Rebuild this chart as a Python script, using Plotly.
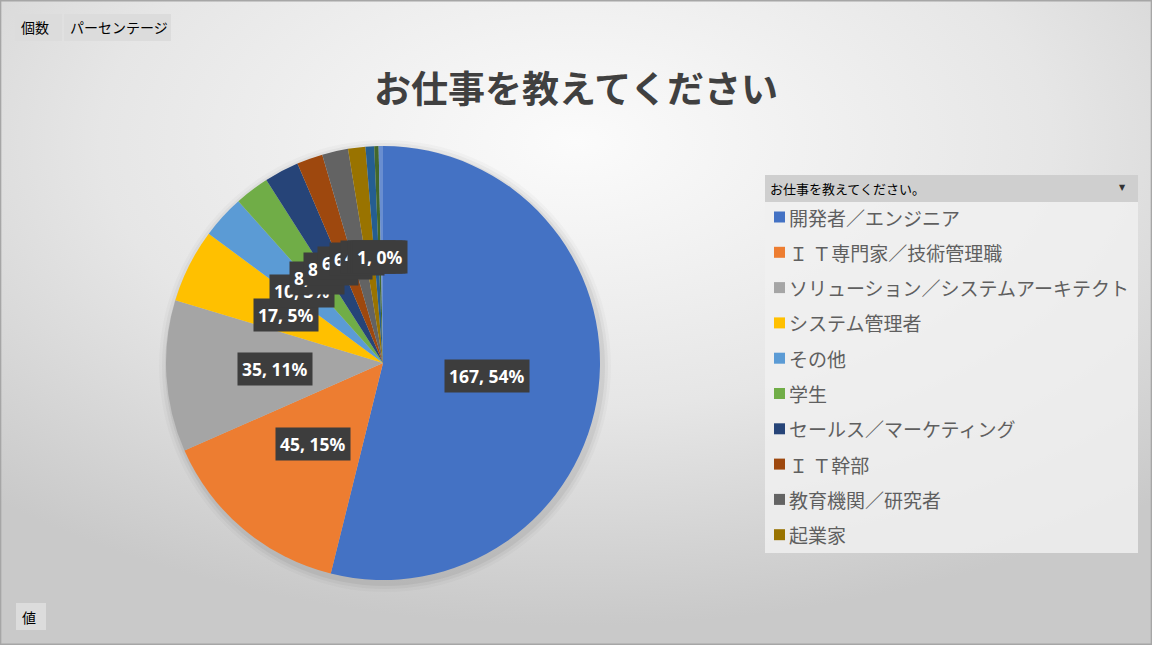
import base64
import math
import plotly.graph_objects as go

# お仕事を教えてください（回答数）
jobs = ["開発者／エンジニア", "Ｉ Ｔ専門家／技術管理職", "ソリューション／システムアーキテクト",
        "システム管理者", "その他", "学生", "セールス／マーケティング", "Ｉ Ｔ幹部",
        "教育機関／研究者", "起業家", "コンサルタント", "デザイナー", "データサイエンティスト"]
counts = [167, 45, 35, 17, 10, 8, 8, 6, 6, 4, 2, 1, 1]
colors = ["#4472C4", "#ED7D31", "#A5A5A5", "#FFC000", "#5B9BD5", "#70AD47", "#264478",
          "#9E480E", "#636363", "#997300", "#255E91", "#43682B", "#698ED0"]
legend_shown = 10

W, H = 1152, 645
cx, cy, rad = 383, 363, 217  # pie centre / radius in px

fig = go.Figure()

fig.add_trace(go.Pie(
    labels=jobs, values=counts, sort=False, direction="clockwise", rotation=0,
    marker=dict(colors=colors, line=dict(width=0)),
    textinfo="none", hovertemplate="%{label}: %{value} (%{percent})<extra></extra>",
    domain=dict(x=[(cx - rad) / W, (cx + rad) / W], y=[1 - (cy + rad) / H, 1 - (cy - rad) / H]),
    showlegend=False,
))

# background gradient
svg = ('<svg xmlns="http://www.w3.org/2000/svg" width="1152" height="645">'
       '<defs><radialGradient id="g" cx="50%" cy="22%" r="75%">'
       '<stop offset="0" stop-color="#fbfbfb"/><stop offset="0.55" stop-color="#e6e6e6"/>'
       '<stop offset="1" stop-color="#c9c9c9"/></radialGradient></defs>'
       '<rect width="1152" height="645" fill="url(#g)"/></svg>')
src = "data:image/svg+xml;base64," + base64.b64encode(svg.encode()).decode()


def px_x(v):
    return v / W


def px_y(v):
    return 1 - v / H


def note(x, y, text, size, color, family="Noto Sans CJK JP", xanchor="center", **kw):
    return dict(x=px_x(x), y=px_y(y), xref="paper", yref="paper", showarrow=False,
                xanchor=xanchor, yanchor="middle", text=text,
                font=dict(family=family, size=size, color=color), **kw)


shapes = []
# soft shadow round the pie
for k, a in [(9, 0.025), (6, 0.035), (3, 0.05)]:
    shapes.append(dict(type="circle", xref="paper", yref="paper", layer="below",
                       x0=px_x(cx - rad - k + 2), x1=px_x(cx + rad + k + 2),
                       y0=px_y(cy + rad + k + 3), y1=px_y(cy - rad - k + 3),
                       fillcolor=f"rgba(0,0,0,{a})", line=dict(width=0)))

annotations = []

# data labels: "value, percent" at half radius
total = sum(counts)
cum = 0
for v in counts:
    theta = 2 * math.pi * (cum + v / 2) / total
    cum += v
    lx = cx + 0.49 * rad * math.sin(theta)
    ly = cy - 0.49 * rad * math.cos(theta)
    annotations.append(note(lx - 2, ly, f"<b>{v}, {round(v / total * 100)}%</b>", 17.5, "white",
                            family="Noto Sans, DejaVu Sans", bgcolor="#3d3d3d", borderpad=4))

# title
annotations.append(note(576, 87, "<b>お仕事を教えてください</b>", 37, "#404040"))

# legend panel
lx0, lx1, ly_head, ly0, ly1 = 765, 1138, 175, 202, 553
shapes.append(dict(type="rect", xref="paper", yref="paper", layer="below",
                   x0=px_x(lx0), x1=px_x(lx1), y0=px_y(ly1), y1=px_y(ly0),
                   fillcolor="rgba(240,240,240,0.85)", line=dict(width=0)))
shapes.append(dict(type="rect", xref="paper", yref="paper", layer="below",
                   x0=px_x(lx0), x1=px_x(lx1), y0=px_y(ly0), y1=px_y(ly_head),
                   fillcolor="#cfcfcf", line=dict(width=0)))
annotations.append(note(768, 188.5, "お仕事を教えてください。", 13, "black", xanchor="left"))
annotations.append(note(1122, 188, "▼", 8, "#333333", family="DejaVu Sans"))

for i in range(legend_shown):
    yc = 217 + i * 35.3
    shapes.append(dict(type="rect", xref="paper", yref="paper",
                       x0=px_x(774), x1=px_x(785), y0=px_y(yc + 5.5), y1=px_y(yc - 5.5),
                       fillcolor=colors[i], line=dict(width=0)))
    annotations.append(note(787, yc, jobs[i], 19, "#5f5f5f", xanchor="left"))

# pivot field buttons
for text, x0, x1, y0, y1 in [("個数", 15, 62, 14, 41), ("パーセンテージ", 64, 171, 14, 41), ("値", 16, 46, 603, 630)]:
    shapes.append(dict(type="rect", xref="paper", yref="paper", layer="below",
                       x0=px_x(x0), x1=px_x(x1), y0=px_y(y1), y1=px_y(y0),
                       fillcolor="#dcdcdc", line=dict(width=0)))
    annotations.append(note(x0 + 4, (y0 + y1) / 2, text, 14, "black", xanchor="left"))

# chart border
shapes.append(dict(type="rect", xref="paper", yref="paper", x0=0.0005, x1=0.9995, y0=0.001, y1=0.999,
                   line=dict(color="#a6a6a6", width=1.5), fillcolor="rgba(0,0,0,0)"))

fig.update_layout(
    width=W, height=H, margin=dict(l=0, r=0, t=0, b=0),
    paper_bgcolor="#e4e4e4", plot_bgcolor="rgba(0,0,0,0)",
    images=[dict(source=src, xref="paper", yref="paper", x=0, y=1, sizex=1, sizey=1,
                 xanchor="left", yanchor="top", sizing="stretch", layer="below")],
    shapes=shapes, annotations=annotations,
    xaxis=dict(visible=False), yaxis=dict(visible=False),
)

fig.write_html("out.html", config={"displayModeBar": False},
               post_script="document.body.style.margin='0px';")
